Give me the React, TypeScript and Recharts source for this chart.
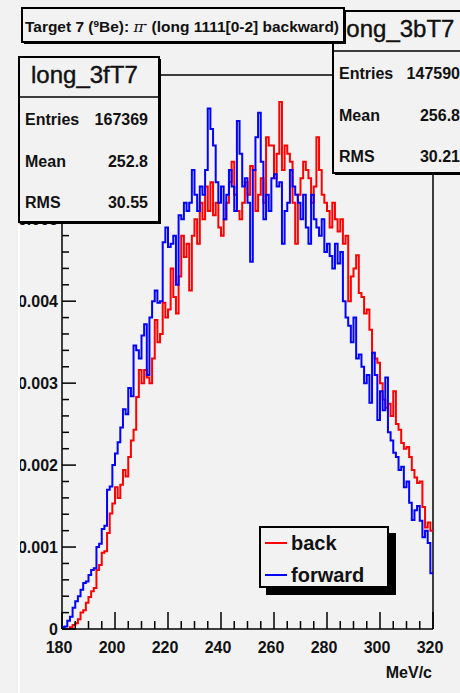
import { LineChart, Line, XAxis, YAxis, ReferenceLine, Legend } from "recharts";

// bin contents, 1 MeV/c bins from 180 to 320
const BACK = [
  0, 0, 0, 0.00002, 0.00005, 0.00007, 0.00012, 0.0002, 0.00023, 0.00032,
  0.00039, 0.00046, 0.0005, 0.00072, 0.00078, 0.00093, 0.00095, 0.00117, 0.00141, 0.00153,
  0.00173, 0.0016, 0.00176, 0.00194, 0.00186, 0.0021, 0.0023, 0.00243, 0.00283, 0.00316,
  0.003, 0.00316, 0.00307, 0.003, 0.0033, 0.00377, 0.0035, 0.0036, 0.00398, 0.0038,
  0.0039, 0.0044, 0.00405, 0.00385, 0.0043, 0.0048, 0.00454, 0.0047, 0.00413, 0.0048,
  0.005, 0.0047, 0.0052, 0.005, 0.0054, 0.0051, 0.00545, 0.00505, 0.0052, 0.0049,
  0.0048, 0.005, 0.0052, 0.00545, 0.0057, 0.0053, 0.0051, 0.005, 0.0052, 0.00545,
  0.0053, 0.00565, 0.0056, 0.0051, 0.0053, 0.0055, 0.0052, 0.006, 0.0059, 0.0059,
  0.0055, 0.0058, 0.00643, 0.0056, 0.0059, 0.0058, 0.0057, 0.0052, 0.0047, 0.0053,
  0.0055, 0.0057, 0.0056, 0.0055, 0.0052, 0.0054, 0.006, 0.0056, 0.0053, 0.0052,
  0.0051, 0.0049, 0.0052, 0.005, 0.00485, 0.005, 0.0047, 0.0048, 0.004, 0.0043,
  0.0044, 0.00456, 0.0041, 0.00405, 0.00385, 0.0039, 0.00365, 0.00337, 0.0033, 0.00325,
  0.003, 0.0028, 0.0027, 0.00275, 0.0026, 0.0029, 0.0025, 0.00243, 0.00227, 0.0022,
  0.00222, 0.0021, 0.00194, 0.00185, 0.00178, 0.0018, 0.00149, 0.00124, 0.0013, 0.0012,
];

const FORWARD = [
  0.00002, 0.00003, 0.0001, 0.00015, 0.00026, 0.00034, 0.0004, 0.00048, 0.00056, 0.00058,
  0.00066, 0.00072, 0.00074, 0.001, 0.00104, 0.00122, 0.00126, 0.0017, 0.00174, 0.002,
  0.00214, 0.00228, 0.00246, 0.00268, 0.00262, 0.00294, 0.00284, 0.00346, 0.0034, 0.0033,
  0.00358, 0.00372, 0.0031, 0.0038, 0.004, 0.00413, 0.00398, 0.004, 0.00472, 0.0049,
  0.00466, 0.0047, 0.0048, 0.0042, 0.00505, 0.005, 0.0052, 0.0051, 0.0052, 0.0056,
  0.0053, 0.0051, 0.0054, 0.0053, 0.0056, 0.00635, 0.0061, 0.0059, 0.00545, 0.0052,
  0.0054, 0.005, 0.0053, 0.0056, 0.0054, 0.0051, 0.0062, 0.0058, 0.0054, 0.0055,
  0.0052, 0.00448, 0.0056, 0.006, 0.0063, 0.0057, 0.005, 0.0053, 0.0051, 0.0055,
  0.00555, 0.0054, 0.00545, 0.0047, 0.0051, 0.0052, 0.0056, 0.0054, 0.0053, 0.0052,
  0.005, 0.0053, 0.0049, 0.0047, 0.0053, 0.005, 0.0049, 0.0048, 0.005, 0.0046,
  0.0047, 0.00455, 0.0044, 0.0047, 0.00446, 0.0046, 0.004, 0.0038, 0.0037, 0.0035,
  0.0038, 0.0033, 0.00335, 0.0032, 0.003, 0.0031, 0.00276, 0.00337, 0.0031, 0.00255,
  0.0029, 0.00267, 0.00307, 0.0024, 0.0023, 0.00215, 0.0021, 0.00194, 0.00198, 0.00173,
  0.0018, 0.00154, 0.00133, 0.00145, 0.0015, 0.00132, 0.00112, 0.0012, 0.00105, 0.00068,
];

const X_MIN = 180;
const X_MAX = 320;
const Y_MAX = 0.00676;
const X_LABELS = [180, 200, 220, 240, 260, 280, 300, 320];
const Y_LABELS = [0, 0.001, 0.002, 0.003, 0.004, 0.005, 0.006];

const BG = "#f2f2f2";
const FONT = "'Liberation Sans', Arial, sans-serif";

// chart geometry (margins + axis sizes below give this frame)
const W = 460;
const H = 693;
const MARGIN = { top: 75, right: 27, bottom: 34, left: 18 };
const Y_AXIS_W = 44;
const X_AXIS_H = 30;
const FRAME = {
  left: MARGIN.left + Y_AXIS_W,
  right: W - MARGIN.right,
  top: MARGIN.top,
  bottom: H - MARGIN.bottom - X_AXIS_H,
};
const px = (v: number) => FRAME.left + ((v - X_MIN) / (X_MAX - X_MIN)) * (FRAME.right - FRAME.left);
const py = (v: number) => FRAME.bottom - (v / Y_MAX) * (FRAME.bottom - FRAME.top);

// bin low edges + closing edge at 320 so the last step is drawn
const data = Array.from({ length: BACK.length + 1 }, (_, i) => {
  const j = Math.min(i, BACK.length - 1);
  return { x: X_MIN + i, back: BACK[j], forward: FORWARD[j] };
});

const xTicks: number[] = [];
for (let v = X_MIN; v <= X_MAX; v += 5) xTicks.push(v);
const yTicks: number[] = [];
for (let i = 0; i * 0.0002 < Y_MAX; i++) yTicks.push(i * 0.0002);
const isYMajor = (v: number) => Y_LABELS.some((l) => Math.abs(l - v) < 1e-9);

function renderXLabel(props: any) {
  return (
    <text x={Number(props.x) - 3} y={Number(props.y) + 24} textAnchor="middle" fontSize={16} fontWeight="bold" fill="#111" fontFamily={FONT}>
      {props.payload.value}
    </text>
  );
}

function renderYLabel(props: any) {
  const v = props.payload.value;
  return (
    <text x={Number(props.x) - 4} y={Number(props.y) + 6} textAnchor="end" fontSize={16} fontWeight="bold" fill="#111" fontFamily={FONT}>
      {v === 0 ? "0" : v.toFixed(3)}
    </text>
  );
}

function LegendBox({ payload }: any) {
  return (
    <div
      style={{
        boxSizing: "border-box",
        width: 130,
        height: 62,
        border: "2px solid #000",
        background: BG,
        boxShadow: "7px 7px 0 #000",
        position: "relative",
        fontFamily: FONT,
      }}
    >
      {(payload || []).map((p: any, i: number) => (
        <div key={p.value} style={{ position: "absolute", left: 4, top: 3 + i * 32, height: 24, display: "flex", alignItems: "center" }}>
          <span style={{ display: "inline-block", width: 22, height: 2, background: p.color, marginRight: 4 }} />
          <span style={{ fontSize: 20, fontWeight: "bold", color: "#111" }}>{p.value}</span>
        </div>
      ))}
    </div>
  );
}

function StatBox({ x, y, w, h, name, nameX, entries, mean, rms, right }: any) {
  const t = { fontFamily: FONT, fontSize: 16, fontWeight: "bold" as const, fill: "#111" };
  return (
    <g>
      <rect x={x + 2} y={y + 2} width={w} height={h} fill="#000" />
      <rect x={x} y={y} width={w} height={h} fill={BG} stroke="#000" strokeWidth={2} />
      <text x={nameX} y={y + 26} fontFamily={FONT} fontSize={24} fill="#111" stroke="#111" strokeWidth={0.4}>{name}</text>
      <line x1={x} x2={x + w} y1={y + 40} y2={y + 40} stroke="#000" strokeWidth={1.5} />
      <text x={x + 6} y={y + 68} {...t}>Entries</text>
      <text x={right} y={y + 68} textAnchor="end" {...t}>{entries}</text>
      <text x={x + 6} y={y + 110} {...t}>Mean</text>
      <text x={right} y={y + 110} textAnchor="end" {...t}>{mean}</text>
      <text x={x + 6} y={y + 151} {...t}>RMS</text>
      <text x={right} y={y + 151} textAnchor="end" {...t}>{rms}</text>
    </g>
  );
}

export default function App() {
  return (
    <div style={{ position: "absolute", left: 0, top: 0, width: W, height: H, background: BG, overflow: "hidden" }}>
      <LineChart width={W} height={H} data={data} margin={MARGIN}>
        <XAxis
          dataKey="x"
          type="number"
          domain={[X_MIN, X_MAX]}
          ticks={X_LABELS}
          interval={0}
          tickSize={0}
          tickMargin={0}
          tickLine={false}
          height={X_AXIS_H}
          axisLine={{ stroke: "#000", strokeWidth: 1.5 }}
          tick={renderXLabel}
        />
        <YAxis
          type="number"
          domain={[0, Y_MAX]}
          ticks={Y_LABELS}
          interval={0}
          tickSize={0}
          tickMargin={0}
          tickLine={false}
          width={Y_AXIS_W}
          axisLine={{ stroke: "#000", strokeWidth: 1.5 }}
          tick={renderYLabel}
        />
        <ReferenceLine y={Y_MAX} stroke="#000" strokeWidth={1.5} />
        <ReferenceLine x={X_MAX} stroke="#000" strokeWidth={1.5} />
        <Line dataKey="back" name="back" type="stepAfter" stroke="#ff0000" strokeWidth={2} dot={false} isAnimationActive={false} />
        <Line dataKey="forward" name="forward" type="stepAfter" stroke="#0000ff" strokeWidth={2} dot={false} isAnimationActive={false} />
        <Legend
          layout="horizontal"
          verticalAlign="middle"
          align="center"
          content={<LegendBox />}
          wrapperStyle={{ left: 259, top: 526, width: 130, height: 62 }}
        />
      </LineChart>
      <svg width={W} height={H} style={{ position: "absolute", left: 0, top: 0, pointerEvents: "none" }}>
        {/* inward ROOT-style tick marks */}
        <g stroke="#000" strokeWidth={1.5}>
          {xTicks.map((v) => (
            <line key={`xt${v}`} x1={px(v)} x2={px(v)} y1={FRAME.bottom} y2={FRAME.bottom - (X_LABELS.includes(v) ? 17 : 8)} />
          ))}
          {yTicks.map((v) => (
            <line key={`yt${v}`} x1={FRAME.left} x2={FRAME.left + (isYMajor(v) ? 14 : 7)} y1={py(v)} y2={py(v)} />
          ))}
        </g>
        <rect x={18} y={225} width={2} height={468} fill="#fff" />
        <text x={432} y={678} textAnchor="end" fontFamily={FONT} fontSize={16} fontWeight="bold" fill="#111">MeV/c</text>
        <StatBox x={333} y={11} w={140} h={162} name="long_3bT7" nameX={341} entries="147590" mean="256.8" rms="30.21" right={460} />
        <StatBox x={19} y={57} w={140} h={165} name="long_3fT7" nameX={31} entries="167369" mean="252.8" rms="30.55" right={148} />
        <rect x={24} y={10} width={322} height={34} fill="#000" />
        <rect x={22} y={8} width={322} height={34} fill={BG} stroke="#000" strokeWidth={2} />
        <text x={25} y={32} fontFamily={FONT} fontSize={14} fontWeight="bold" fill="#111" textLength={314} lengthAdjust="spacingAndGlyphs">
          Target 7 (<tspan dy={-5} fontSize={9}>9</tspan><tspan dy={5}>Be): </tspan>
          <tspan fontFamily="'DejaVu Serif', serif" fontStyle="italic" fontWeight="normal">π</tspan>
          <tspan dy={-5} fontSize={10}>-</tspan><tspan dy={5}> (long 1111[0-2] backward)</tspan>
        </text>
      </svg>
    </div>
  );
}
